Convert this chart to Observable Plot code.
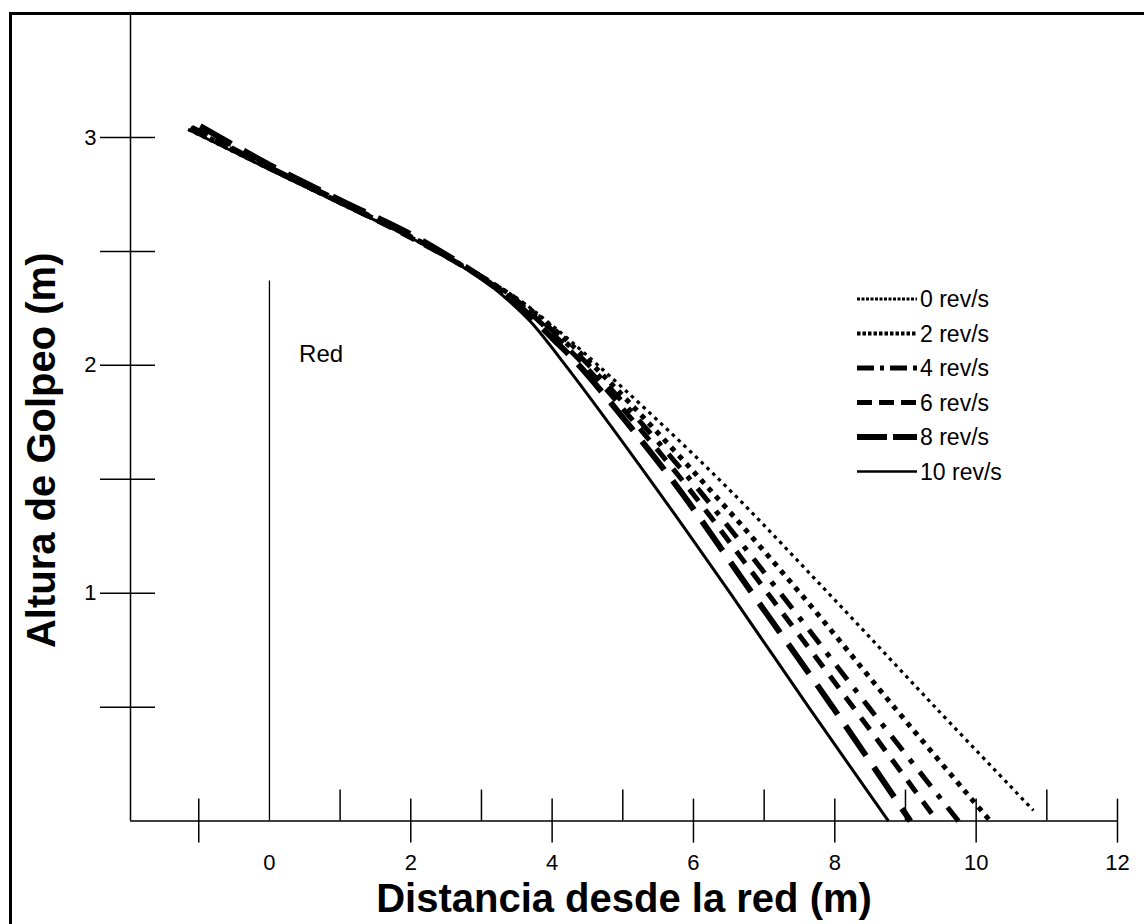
<!DOCTYPE html>
<html><head><meta charset="utf-8">
<script src="https://cdn.jsdelivr.net/npm/d3@7"></script>
<script src="https://cdn.jsdelivr.net/npm/@observablehq/plot@0.6"></script>
<style>
body{margin:0;background:#fff;}
#wrap{position:relative;width:1144px;height:924px;overflow:hidden;background:#fff;}
#frame{position:absolute;left:9px;top:12px;width:1300px;height:1100px;border-top:3px solid #000;border-left:3px solid #000;pointer-events:none;}
#legend{position:absolute;left:0;top:0;}
</style>
</head><body>
<div id="wrap"><div id="chart"></div><div id="frame"></div><svg id="legend" width="1144" height="924"></svg></div>
<script>
// ---- data ----
const seriesLabels = ["0 rev/s","2 rev/s","4 rev/s","6 rev/s","8 rev/s","10 rev/s"];
const dist0  = [-1.15, 0, 1, 2, 2.66, 3.0, 3.5, 4.0, 4.65, 6.36, 7.91, 9.42, 10.81];
const h0     = [3.035, 2.86, 2.71, 2.56, 2.45, 2.39, 2.295, 2.175, 2.0, 1.5, 1.0, 0.5, 0.047];
const dist2  = [-1.12, 0, 1, 2, 2.66, 3.0, 3.5, 4.0, 4.58, 6.10, 7.51, 8.84, 10.20];
const h2     = [3.04, 2.865, 2.715, 2.565, 2.45, 2.39, 2.29, 2.165, 2.0, 1.5, 1.0, 0.5, 0];
const dist4  = [-1.10, 0, 1, 2, 2.66, 3.0, 3.5, 4.0, 4.52, 5.95, 7.23, 8.48, 9.75];
const h4     = [3.045, 2.87, 2.72, 2.565, 2.45, 2.39, 2.285, 2.155, 2.0, 1.5, 1.0, 0.5, 0];
const dist6  = [-1.10, 0, 1, 2, 2.66, 3.0, 3.5, 4.0, 4.46, 5.83, 7.05, 8.26, 9.45];
const h6     = [3.04, 2.865, 2.715, 2.56, 2.45, 2.385, 2.28, 2.14, 2.0, 1.5, 1.0, 0.5, 0];
const dist8  = [-0.98, 0, 1, 2, 2.66, 3.0, 3.5, 4.0, 4.38, 5.69, 6.83, 7.97, 9.07];
const h8     = [3.05, 2.88, 2.725, 2.575, 2.455, 2.385, 2.27, 2.12, 2.0, 1.5, 1.0, 0.5, 0];
const dist10 = [-1.15, 0, 1, 2, 2.66, 3.0, 3.4, 3.7, 4.19, 5.38, 6.52, 7.63, 8.76];
const h10    = [3.035, 2.86, 2.71, 2.56, 2.445, 2.38, 2.28, 2.19, 2.0, 1.5, 1.0, 0.5, 0];
const xTickLabels = [0, 2, 4, 6, 8, 10, 12];
const xTicksCross = [-1, 2, 4, 6, 8, 10, 12];
const xTicksUp    = [1, 3, 5, 7, 9, 11];
const yTicks      = [0.5, 1, 1.5, 2, 2.5, 3];
const yTickLabels = [1, 2, 3];
const netHeight = 2.37;

// ---- layout ----
const W = 1144, H = 924;
const xMin = -1.966, xMax = 12, yMax = 3.544;
const mL = 130, mR = 27, mT = 13, mB = 103.4;
const pxX = (W - mL - mR) / (xMax - xMin);
const pxY = (H - mT - mB) / yMax;
const font = "'Liberation Sans', Arial, sans-serif";

const distArrays = [dist0, dist2, dist4, dist6, dist8, dist10];
const hArrays = [h0, h2, h4, h6, h8, h10];
const styles = [
  {strokeWidth: 3.2, strokeDasharray: "3.5,4.5"},
  {strokeWidth: 5, strokeDasharray: "5,6"},
  {strokeWidth: 5, strokeDasharray: "18,11,5,11"},
  {strokeWidth: 5, strokeDasharray: "15,11"},
  {strokeWidth: 6, strokeDasharray: "36,14"},
  {strokeWidth: 3, strokeDasharray: null}
];
const legendStyles = [
  {w: 3, d: "3,1.5"},
  {w: 4, d: "3.5,2"},
  {w: 5, d: "17,6,4,6"},
  {w: 5, d: "15,7"},
  {w: 6, d: "30,6"},
  {w: 2.5, d: null}
];

const series = seriesLabels.map((name, i) =>
  distArrays[i].map((x, j) => ({x, y: hArrays[i][j], name})));

const lineMarks = series.map((pts, i) => Plot.line(pts, {
  x: "x", y: "y", stroke: "black", curve: "catmull-rom",
  strokeLinecap: "butt", strokeLinejoin: "miter",
  strokeWidth: styles[i].strokeWidth,
  ...(styles[i].strokeDasharray ? {strokeDasharray: styles[i].strokeDasharray} : {})
}));

const chart = Plot.plot({
  width: W, height: H,
  marginLeft: mL, marginRight: mR, marginTop: mT, marginBottom: mB,
  style: {fontFamily: font, background: "transparent", color: "black"},
  x: {domain: [xMin, xMax], axis: null},
  y: {domain: [0, yMax], axis: null},
  marks: [
    Plot.ruleX([xMin], {y1: 0, y2: yMax, stroke: "black", strokeWidth: 1.5}),
    Plot.ruleY([0], {x1: xMin, x2: xMax, stroke: "black", strokeWidth: 1.5}),
    Plot.ruleY(yTicks, {y: d => d, x1: xMin - 30 / pxX, x2: xMin + 25 / pxX, stroke: "black", strokeWidth: 1.5}),
    Plot.ruleX(xTicksCross, {x: d => d, y1: -22 / pxY, y2: 22 / pxY, stroke: "black", strokeWidth: 1.5}),
    Plot.ruleX(xTicksUp, {x: d => d, y1: 0, y2: 31 / pxY, stroke: "black", strokeWidth: 1.5}),
    Plot.text(yTickLabels, {x: xMin, y: d => d, dx: -34, textAnchor: "end", fontSize: 22, fill: "black"}),
    Plot.text(xTickLabels, {x: d => d, y: 0, dy: 42, textAnchor: "middle", fontSize: 22, fill: "black"}),
    Plot.ruleX([0], {y1: 0, y2: netHeight, stroke: "black", strokeWidth: 1.3}),
    Plot.text(["Red"], {x: 0.42, y: 2.05, textAnchor: "start", fontSize: 24, fill: "black"}),
    ...lineMarks,
    Plot.text(["Distancia desde la red (m)"], {frameAnchor: "bottom", lineAnchor: "middle", textAnchor: "middle", dy: 78, fontSize: 40, fontWeight: "bold", fill: "black"}),
    Plot.text(["Altura de Golpeo (m)"], {frameAnchor: "left", textAnchor: "middle", lineAnchor: "middle", dx: -88, dy: 33, rotate: -90, fontSize: 40, fontWeight: "bold", fill: "black"})
  ]
});
document.getElementById("chart").appendChild(chart);

// ---- legend ----
const lg = d3.select("#legend");
const lx1 = 857, lx2 = 917, ly0 = 299, lstep = 34.5;
seriesLabels.forEach((name, i) => {
  const y = ly0 + i * lstep;
  const ln = lg.append("line").attr("x1", lx1).attr("x2", lx2).attr("y1", y).attr("y2", y)
    .attr("stroke", "black").attr("stroke-width", legendStyles[i].w);
  if (legendStyles[i].d) ln.attr("stroke-dasharray", legendStyles[i].d);
  lg.append("text").attr("x", lx2 + 3).attr("y", y).attr("dy", "0.36em")
    .attr("font-family", font).attr("font-size", 23).text(name);
});
</script>
</body></html>
